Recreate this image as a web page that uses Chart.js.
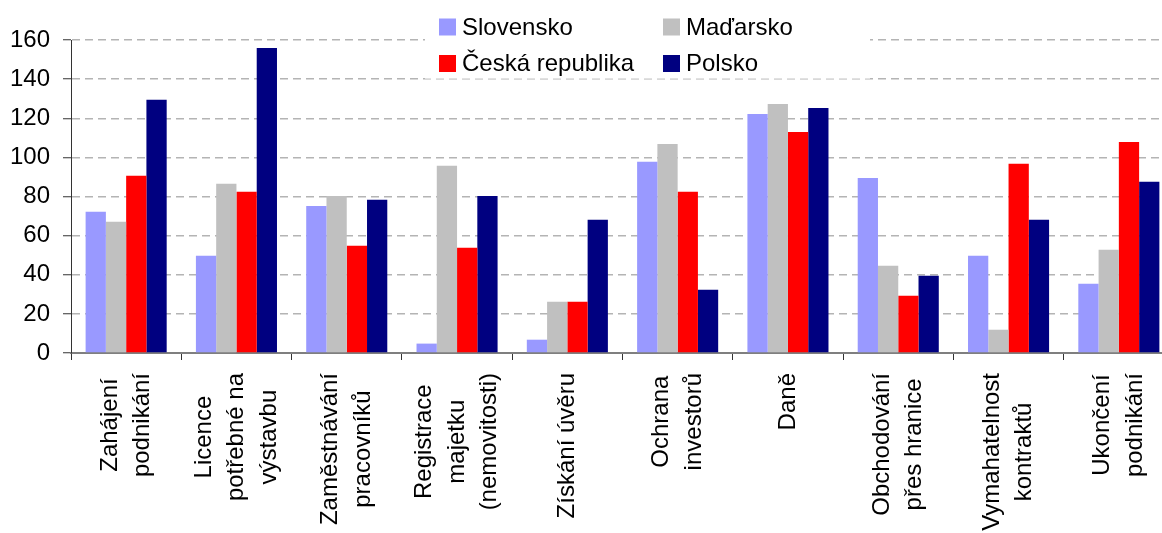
<!DOCTYPE html>
<html>
<head>
<meta charset="utf-8">
<script src="https://cdn.jsdelivr.net/npm/chart.js@4"></script>
<style>
  html, body { margin: 0; padding: 0; background: #fff; overflow: hidden; }
  #wrap { width: 1176px; height: 533px; }
</style>
</head>
<body>
<div id="wrap"><canvas id="c" width="1176" height="533"></canvas></div>
<script>
const categories = [
  ["Zahájení", "podnikání"],
  ["Licence", "potřebné na", "výstavbu"],
  ["Zaměstnávání", "pracovníků"],
  ["Registrace", "majetku", "(nemovitosti)"],
  ["Získání úvěru"],
  ["Ochrana", "investorů"],
  ["Daně"],
  ["Obchodování", "přes hranice"],
  ["Vymahatelnost", "kontraktů"],
  ["Ukončení", "podnikání"]
];
const seriesNames = ["Slovensko", "Maďarsko", "Česká republika", "Polsko"];
const slovensko = [72.2, 49.7, 75.2, 4.8, 6.8, 97.7, 122.2, 89.5, 49.7, 35.4];
const madarsko  = [67.1, 86.5, 80.3, 95.7, 26.2, 106.9, 127.3, 44.6, 11.9, 52.8];
const cesko     = [90.6, 82.4, 54.8, 53.8, 26.2, 82.4, 113.0, 29.3, 96.7, 107.9];
const polsko    = [129.4, 155.9, 78.3, 80.3, 68.1, 32.3, 125.3, 39.5, 68.1, 87.5];
const yTicks = [0, 20, 40, 60, 80, 100, 120, 140, 160];

const colors = ["#9999FF", "#C0C0C0", "#FF0000", "#000080"];
const FONT = '24px "Liberation Sans", Arial, sans-serif';

const legendPlugin = {
  id: 'customLegend',
  beforeDatasetsDraw(chart) {
    const ctx = chart.ctx;
    ctx.save();
    ctx.fillStyle = 'rgba(255,255,255,1)';
    ctx.fillRect(425, 0, 445, 78.6);
    const pos = [[439, 27], [663, 27], [439, 63.5], [663, 63.5]];
    ctx.font = FONT;
    ctx.textBaseline = 'middle';
    ctx.textAlign = 'left';
    chart.data.datasets.forEach((ds, i) => {
      const [x, y] = pos[i];
      ctx.fillStyle = ds.backgroundColor;
      ctx.fillRect(x, y - 8.5, 17, 17);
      ctx.fillStyle = '#000';
      ctx.fillText(ds.label, x + 23, y + 1);
    });
    ctx.restore();
  }
};

const xLabelPlugin = {
  id: 'xLabels',
  afterDraw(chart) {
    const ctx = chart.ctx;
    const xs = chart.scales.x;
    ctx.save();
    ctx.font = FONT;
    ctx.fillStyle = '#000';
    ctx.textAlign = 'center';
    ctx.textBaseline = 'middle';
    const lineGap = 32.5;
    const start = chart.chartArea.bottom + 20;
    chart.data.labels.forEach((lines, i) => {
      const cx = xs.getPixelForValue(i);
      const maxW = Math.max(...lines.map(l => ctx.measureText(l).width));
      const n = lines.length;
      lines.forEach((line, j) => {
        const lx = cx + (j - (n - 1) / 2) * lineGap;
        ctx.save();
        ctx.translate(lx, start + maxW / 2);
        ctx.rotate(-Math.PI / 2);
        ctx.fillText(line, 0, 0);
        ctx.restore();
      });
    });
    ctx.restore();
  }
};

const seriesData = [slovensko, madarsko, cesko, polsko];

new Chart(document.getElementById('c'), {
  type: 'bar',
  data: {
    labels: categories,
    datasets: seriesNames.map((name, i) => ({
      label: name,
      data: seriesData[i],
      backgroundColor: colors[i],
      borderWidth: 0,
      categoryPercentage: 0.735,
      barPercentage: 1.0
    }))
  },
  options: {
    responsive: false,
    devicePixelRatio: 1,
    animation: false,
    layout: { padding: { top: 40, right: 2, left: 0, bottom: 0 } },
    plugins: { legend: { display: false }, tooltip: { enabled: false } },
    scales: {
      x: {
        offset: true,
        ticks: { display: false },
        grid: {
          display: true,
          offset: true,
          drawOnChartArea: false,
          drawTicks: true,
          tickLength: 7,
          tickColor: '#333333',
          tickWidth: 1
        },
        border: { display: true, color: '#7f7f7f', width: 2 },
        afterFit(scale) { scale.height = 180; }
      },
      y: {
        min: 0,
        max: 160,
        afterBuildTicks(scale) { scale.ticks = yTicks.map(v => ({ value: v })); },
        ticks: {
          font: { family: '"Liberation Sans", Arial, sans-serif', size: 24 },
          color: '#000',
          padding: 13
        },
        grid: {
          color: '#b4b4b4',
          lineWidth: 1.5,
          tickLength: 8,
          tickColor: '#333333',
          tickWidth: 1,
          tickBorderDash: []
        },
        border: { display: true, color: '#333333', width: 1, dash: [8, 5] },
        afterFit(scale) { scale.width = 71; }
      }
    }
  },
  plugins: [legendPlugin, xLabelPlugin]
});
</script>
</body>
</html>
